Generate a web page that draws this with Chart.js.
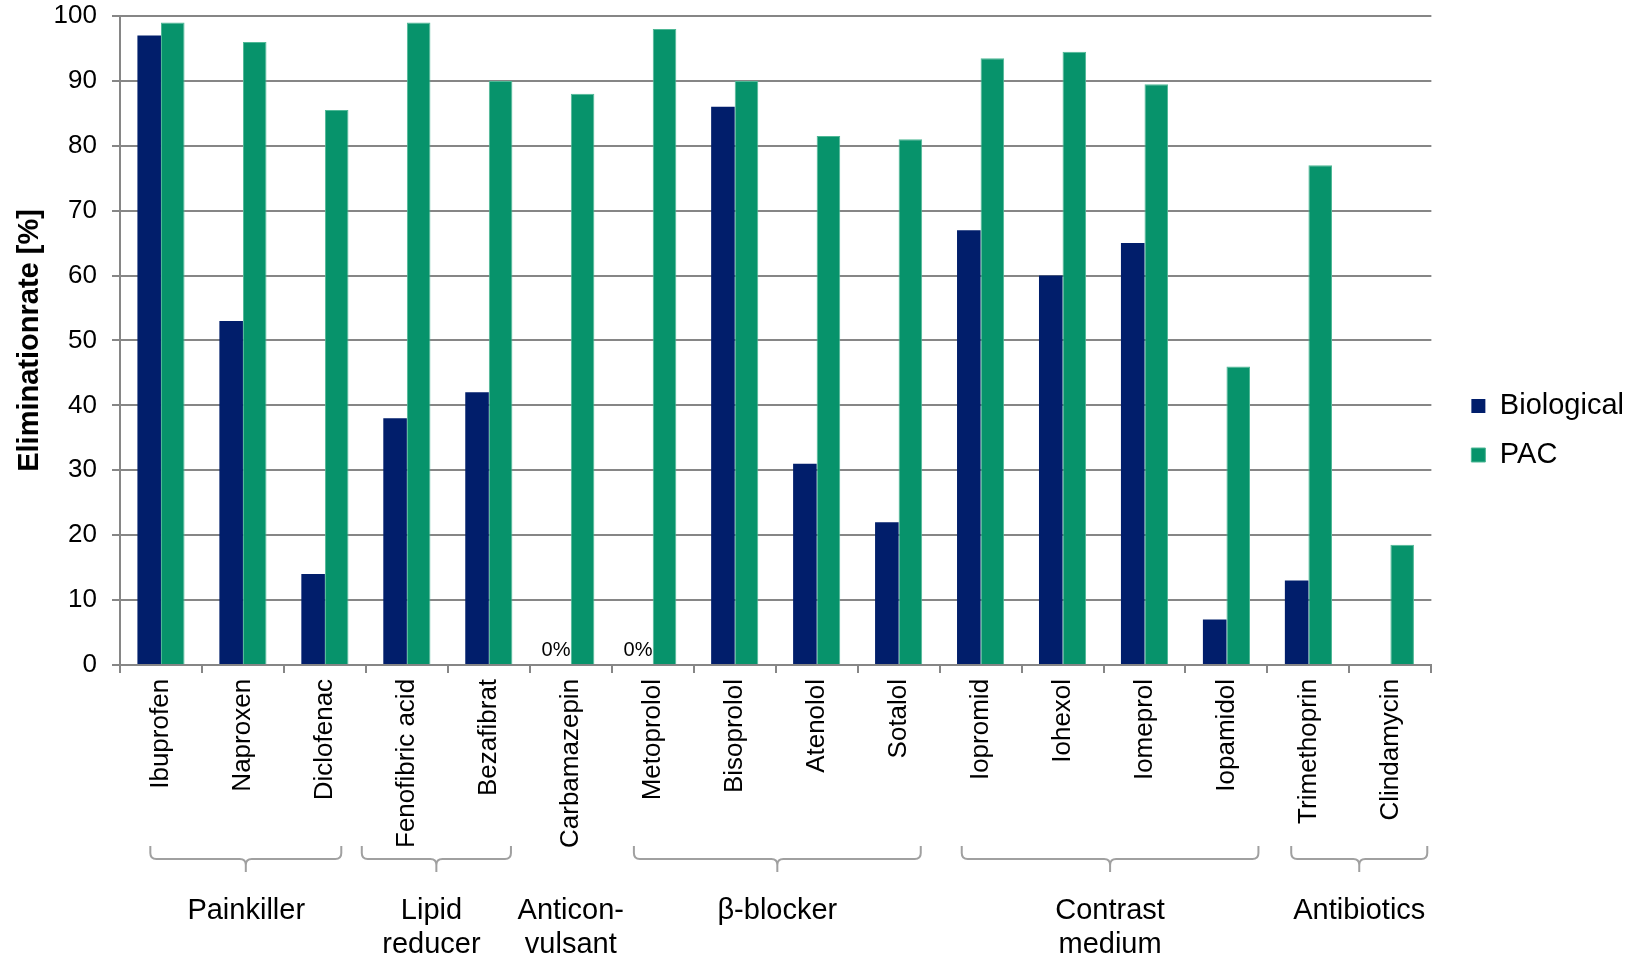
<!DOCTYPE html>
<html>
<head>
<meta charset="utf-8">
<script src="https://cdn.jsdelivr.net/npm/chart.js@4"></script>
<style>
  html, body { margin: 0; padding: 0; background: #fff; }
  #wrap { width: 1627px; height: 961px; }
</style>
</head>
<body>
<div id="wrap"><canvas id="myChart"></canvas></div>
<script>
// data
const categories = ['Ibuprofen', 'Naproxen', 'Diclofenac', 'Fenofibric acid', 'Bezafibrat', 'Carbamazepin',
  'Metoprolol', 'Bisoprolol', 'Atenolol', 'Sotalol', 'Iopromid', 'Iohexol', 'Iomeprol', 'Iopamidol',
  'Trimethoprin', 'Clindamycin'];
const biological = [97, 53, 14, 38, 42, 0, 0, 86, 31, 22, 67, 60, 65, 7, 13, null];
const pac = [99, 96, 85.5, 99, 90, 88, 98, 90, 81.5, 81, 93.5, 94.5, 89.5, 46, 77, 18.5];
const yTicks = [0, 10, 20, 30, 40, 50, 60, 70, 80, 90, 100];
const groupNames = [['Painkiller'], ['Lipid', 'reducer'], ['Anticon-', 'vulsant'], ['β-blocker'], ['Contrast', 'medium'], ['Antibiotics']];

// brace spans in category units (null = no brace), label centre in category units
const braces = [[-0.13, 2.2], [2.45, 4.27], null, [5.77, 9.27], [9.77, 13.39], [13.79, 15.45]];
const labelAt = [1.04, 3.3, 5.0, 7.52, 11.58, 14.62];

const FONT = '"Liberation Sans", Arial, sans-serif';
const GRID = '#868686';

const groupPlugin = {
  id: 'groups',
  afterDraw(chart) {
    const ctx = chart.ctx;
    const x = chart.scales.x;
    ctx.save();
    // zero labels
    const meta = chart.getDatasetMeta(0);
    ctx.font = '20px ' + FONT;
    ctx.fillStyle = '#000';
    ctx.textAlign = 'center';
    ctx.textBaseline = 'alphabetic';
    biological.forEach((v, i) => {
      if (v === 0) {
        const bar = meta.data[i];
        ctx.fillText('0%', bar.x - 3, chart.scales.y.getPixelForValue(0) - 9);
      }
    });
    // braces
    ctx.strokeStyle = '#a0a0a0';
    ctx.lineWidth = 2;
    const top = 846, mid = 859, tip = 872, r = 6;
    braces.forEach(b => {
      if (!b) return;
      const x0 = x.getPixelForValue(b[0]);
      const x1 = x.getPixelForValue(b[1]);
      const xc = (x0 + x1) / 2;
      ctx.beginPath();
      ctx.moveTo(x0, top);
      ctx.lineTo(x0, mid - r);
      ctx.quadraticCurveTo(x0, mid, x0 + r, mid);
      ctx.lineTo(xc - r, mid);
      ctx.quadraticCurveTo(xc, mid, xc, mid + r);
      ctx.lineTo(xc, tip);
      ctx.moveTo(xc, mid + r);
      ctx.quadraticCurveTo(xc, mid, xc + r, mid);
      ctx.lineTo(x1 - r, mid);
      ctx.quadraticCurveTo(x1, mid, x1, mid - r);
      ctx.lineTo(x1, top);
      ctx.stroke();
    });
    // group names
    ctx.font = '29px ' + FONT;
    ctx.textBaseline = 'middle';
    groupNames.forEach((lines, g) => {
      const cx = x.getPixelForValue(labelAt[g]);
      lines.forEach((t, k) => ctx.fillText(t, cx, 911 + k * 34));
    });
    ctx.restore();
  }
};

const config = {
  type: 'bar',
  data: {
    labels: categories,
    datasets: [{
      label: 'Biological',
      data: biological,
      backgroundColor: '#011e6b',
      borderWidth: 0,
      categoryPercentage: 0.575,
      barPercentage: 1.0
    }, {
      label: 'PAC',
      data: pac,
      backgroundColor: '#07936b',
      borderColor: '#4fb896',
      borderWidth: 1,
      borderSkipped: 'bottom',
      categoryPercentage: 0.575,
      barPercentage: 1.0
    }]
  },
  options: {
    responsive: true,
    maintainAspectRatio: false,
    animation: false,
    layout: { padding: { left: 0, top: -13, right: -7, bottom: 87 } },
    plugins: {
      tooltip: { enabled: false },
      legend: {
        position: 'right',
        align: 'center',
        labels: {
          font: { family: FONT, size: 29 },
          color: '#000',
          boxWidth: 14,
          boxHeight: 14,
          padding: 20
        }
      }
    },
    scales: {
      x: {
        grid: { drawOnChartArea: false, drawTicks: true, tickLength: 8, color: GRID, lineWidth: 2 },
        border: { color: GRID, width: 2 },
        ticks: {
          font: { family: FONT, size: 26 },
          color: '#000',
          maxRotation: 90,
          minRotation: 90,
          padding: 6,
          autoSkip: false
        },
        afterFit: axis => { axis.height += 20; }
      },
      y: {
        min: 0,
        max: 100,
        afterBuildTicks: axis => { axis.ticks = yTicks.map(v => ({ value: v })); },
        afterFit: axis => {
          axis.width = 120;
          axis.paddingTop = 16;
          axis.paddingBottom = 0;
        },
        grid: { color: GRID, lineWidth: 2, tickLength: 8 },
        border: { color: GRID, width: 2 },
        ticks: {
          font: { family: FONT, size: 26 },
          color: '#000',
          padding: 15
        },
        title: {
          display: true,
          text: 'Eliminationrate [%]',
          font: { family: FONT, size: 29, weight: 'bold' },
          color: '#000',
          padding: { top: 13, bottom: 0 }
        }
      },
      // empty spacer between plot and legend
      gap: {
        type: 'linear',
        position: 'right',
        display: true,
        grid: { display: false },
        border: { display: false },
        ticks: { display: false },
        afterFit: axis => { axis.width = 20; }
      }
    }
  },
  plugins: [groupPlugin]
};

const myChart = new Chart(document.getElementById('myChart'), config);
</script>
</body>
</html>
